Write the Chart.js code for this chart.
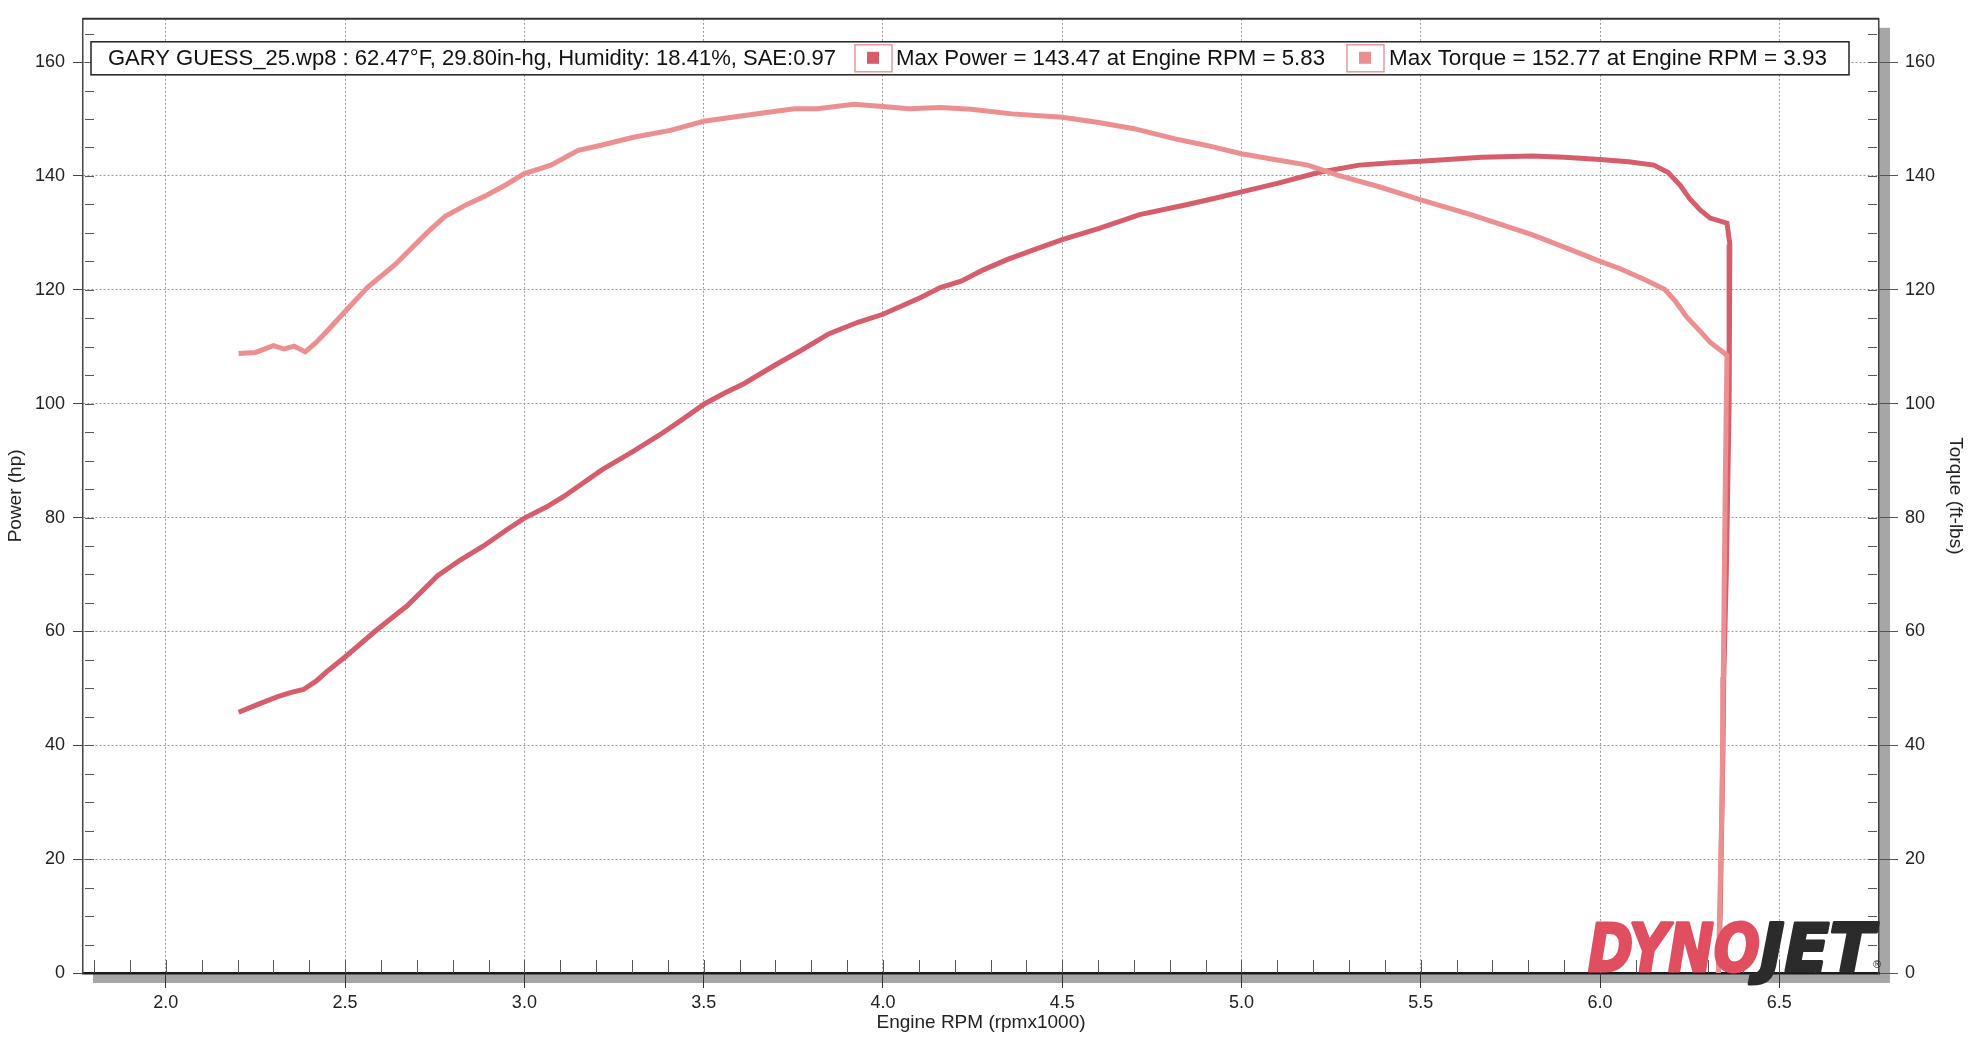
<!DOCTYPE html>
<html>
<head>
<meta charset="utf-8">
<title>Dyno run</title>
<script src="https://cdn.jsdelivr.net/npm/chart.js@4.4.0/dist/chart.umd.min.js"></script>
<style>
  html, body { margin: 0; padding: 0; background: #fff; }
  #wrap { width: 1971px; height: 1038px; position: relative; }
</style>
</head>
<body>
<div id="wrap"><canvas id="dyno"></canvas></div>
<script>
// values (rpm x1000)
const powerRpm = [2.203, 2.25, 2.31, 2.35, 2.384, 2.42, 2.448, 2.50, 2.587, 2.673, 2.758, 2.82, 2.886, 2.95, 3.00,
  3.06, 3.11, 3.217, 3.30, 3.377, 3.44, 3.503, 3.56, 3.612, 3.697, 3.77, 3.85, 3.93, 4.00, 4.104, 4.16, 4.218,
  4.28, 4.346, 4.42, 4.50, 4.603, 4.716, 4.843, 4.92, 5.00, 5.10, 5.214, 5.328, 5.42, 5.50, 5.67, 5.81, 5.90,
  6.00, 6.08, 6.15, 6.19, 6.223, 6.25, 6.28, 6.307, 6.354, 6.362, 6.36, 6.352, 6.345, 6.343, 6.335, 6.33];
const powerHp = [45.8, 47.0, 48.5, 49.3, 49.8, 51.3, 52.9, 55.5, 60.2, 64.5, 69.8, 72.5, 75.0, 77.8, 79.9,
  81.8, 83.7, 88.4, 91.5, 94.5, 97.2, 100.0, 101.9, 103.5, 106.7, 109.3, 112.3, 114.3, 115.7, 118.6, 120.4, 121.5,
  123.5, 125.3, 127.0, 128.8, 130.8, 133.2, 134.9, 136.0, 137.2, 138.7, 140.6, 141.9, 142.3, 142.6, 143.3, 143.5, 143.3,
  142.9, 142.5, 141.9, 140.6, 138.4, 136.0, 134.0, 132.6, 131.7, 128.0, 100.0, 70.0, 52.0, 40.0, 10.0, 0];

const torqueRpm = [2.203, 2.25, 2.30, 2.33, 2.358, 2.389, 2.42, 2.446, 2.50, 2.562, 2.639, 2.728, 2.779, 2.84, 2.895,
  2.95, 3.00, 3.074, 3.15, 3.214, 3.304, 3.407, 3.50, 3.624, 3.753, 3.817, 3.919, 4.00, 4.073, 4.16, 4.246, 4.36,
  4.50, 4.602, 4.70, 4.815, 4.90, 5.00, 5.10, 5.185, 5.27, 5.384, 5.50, 5.64, 5.81, 5.90, 6.00, 6.056, 6.124, 6.18,
  6.21, 6.242, 6.275, 6.307, 6.354, 6.35, 6.345, 6.34, 6.33];
const torqueFtLbs = [108.8, 109.0, 110.2, 109.6, 110.1, 109.1, 110.8, 112.5, 116.2, 120.4, 124.4, 130.0, 132.9, 135.0, 136.6,
  138.5, 140.4, 141.9, 144.5, 145.4, 146.8, 148.0, 149.6, 150.7, 151.8, 151.8, 152.6, 152.2, 151.8, 152.0, 151.7, 150.9,
  150.3, 149.4, 148.3, 146.5, 145.4, 143.9, 142.8, 141.9, 140.1, 138.1, 135.8, 133.2, 129.7, 127.5, 125.0, 123.7, 121.8, 120.1,
  118.0, 115.2, 113.0, 110.8, 108.5, 90.0, 60.0, 30.0, 0];

const rpmTicks = [2.0, 2.5, 3.0, 3.5, 4.0, 4.5, 5.0, 5.5, 6.0, 6.5];
const valueTicks = [0, 20, 40, 60, 80, 100, 120, 140, 160];

const runInfo = 'GARY GUESS_25.wp8 : 62.47°F, 29.80in-hg, Humidity: 18.41%, SAE:0.97';
const powerLabel = 'Max Power = 143.47 at Engine RPM = 5.83';
const torqueLabel = 'Max Torque = 152.77 at Engine RPM = 3.93';

const powerColor = '#d65d6b';
const torqueColor = '#ec8f90';
const font = "'Liberation Sans', Arial, sans-serif";

function pairs(xs, ys) {
  return xs.map((x, i) => ({ x: x, y: ys[i] }));
}

// draw text squeezed/stretched to a given width
function fitText(ctx, text, x, y, width, stroke) {
  const w = ctx.measureText(text).width;
  ctx.save();
  ctx.translate(x, y);
  ctx.scale(width / w, 1);
  ctx.fillText(text, 0, 0);
  if (stroke) {
    ctx.strokeStyle = ctx.fillStyle;
    ctx.lineWidth = stroke;
    ctx.lineJoin = 'round';
    ctx.strokeText(text, 0, 0);
  }
  ctx.restore();
}

// gray drop shadow under the white plot panel, frame, minor ticks, info box, logo
const panelPlugin = {
  id: 'panel',
  beforeDraw(chart) {
    const { ctx, chartArea: a } = chart;
    ctx.save();
    ctx.fillStyle = '#a6a6a6';
    ctx.fillRect(a.left + 10, a.top + 9, a.right - a.left + 1, a.bottom - a.top + 1);
    ctx.fillStyle = '#fff';
    ctx.fillRect(a.left, a.top, a.right - a.left, a.bottom - a.top);
    ctx.restore();
  },
  beforeDatasetsDraw(chart) {
    const { ctx, chartArea: a, scales } = chart;
    ctx.save();
    ctx.strokeStyle = '#333';
    ctx.lineWidth = 2;
    ctx.beginPath();
    ctx.moveTo(a.left, a.top);
    ctx.lineTo(a.right, a.top);
    ctx.stroke();
    ctx.strokeStyle = '#555';
    ctx.lineWidth = 1;
    ctx.beginPath();
    for (let i = 18; i <= 67; i++) {
      const px = Math.round(scales.x.getPixelForValue(i / 10)) + 0.5;
      ctx.moveTo(px, a.bottom);
      ctx.lineTo(px, a.bottom - 13);
    }
    for (let v = 5; v <= 165; v += 5) {
      const py = Math.round(scales.y.getPixelForValue(v)) + 0.5;
      ctx.moveTo(a.left + 2, py);
      ctx.lineTo(a.left + 11, py);
      ctx.moveTo(a.right - 11, py);
      ctx.lineTo(a.right - 2, py);
    }
    ctx.stroke();
    ctx.restore();
  },
  afterDatasetsDraw(chart) {
    const { ctx, chartArea: a } = chart;
    ctx.save();
    const bx = a.left + 8, by = a.top + 23, bw = 1758, bh = 33;
    ctx.fillStyle = '#fff';
    ctx.fillRect(bx, by, bw, bh);
    ctx.strokeStyle = '#222';
    ctx.lineWidth = 1.5;
    ctx.strokeRect(bx, by, bw, bh);
    ctx.font = '22px ' + font;
    ctx.fillStyle = '#111';
    ctx.textBaseline = 'middle';
    const ty = by + bh / 2 + 1;
    fitText(ctx, runInfo, bx + 17, ty, 728);
    const swatch = (sx, color) => {
      ctx.strokeStyle = '#e39a9c';
      ctx.lineWidth = 1.5;
      ctx.strokeRect(sx, by + 3, 37, 27);
      ctx.fillStyle = color;
      ctx.fillRect(sx + 12, by + 10, 12, 12);
      ctx.fillStyle = '#111';
    };
    swatch(bx + 764, powerColor);
    fitText(ctx, powerLabel, bx + 805, ty, 429);
    swatch(bx + 1256, torqueColor);
    fitText(ctx, torqueLabel, bx + 1298, ty, 438);

    ctx.font = 'italic bold 66px "DejaVu Sans", sans-serif';
    ctx.textBaseline = 'alphabetic';
    ctx.fillStyle = '#e04e60';
    const ly = a.bottom - 2;
    fitText(ctx, 'DYNO', a.right - 291, ly, 172, 3);
    ctx.fillStyle = '#2b2b2b';
    fitText(ctx, 'JET', a.right - 119, ly, 114, 3);
    ctx.font = '11px ' + font;
    ctx.fillText('®', a.right - 6, ly - 3);
    ctx.restore();
  }
};

const tickFont = { family: font, size: 18 };
const titleFont = { family: font, size: 19 };

new Chart(document.getElementById('dyno'), {
  type: 'line',
  data: {
    datasets: [
      {
        label: 'Torque',
        data: pairs(torqueRpm, torqueFtLbs),
        yAxisID: 'y2',
        borderColor: torqueColor,
        borderWidth: 5,
        pointRadius: 0,
        tension: 0,
        order: 0
      },
      {
        label: 'Power',
        data: pairs(powerRpm, powerHp),
        yAxisID: 'y',
        borderColor: powerColor,
        borderWidth: 5,
        pointRadius: 0,
        tension: 0,
        order: 1
      }
    ]
  },
  options: {
    responsive: true,
    maintainAspectRatio: false,
    animation: false,
    layout: { padding: { top: 12, left: 0, right: 0, bottom: 0 } },
    plugins: { legend: { display: false }, tooltip: { enabled: false } },
    scales: {
      x: {
        type: 'linear',
        min: 1.769,
        max: 6.778,
        afterBuildTicks: (scale) => { scale.ticks = rpmTicks.map(v => ({ value: v })); },
        afterFit: (scale) => { scale.height = 65; },
        ticks: { color: '#222', font: tickFont, padding: 4, maxRotation: 0, callback: (v) => Number(v).toFixed(1) },
        grid: { color: '#9a9a9a', lineWidth: 1, tickLength: 15, tickColor: '#333', tickWidth: 1 },
        border: { display: true, color: '#1a1a1a', width: 2.5, dash: [2, 2] },
        title: { display: true, text: 'Engine RPM (rpmx1000)', color: '#222', font: titleFont, padding: { top: 0, bottom: 4 } }
      },
      y: {
        position: 'left',
        min: 0,
        max: 167.6,
        afterBuildTicks: (scale) => { scale.ticks = valueTicks.map(v => ({ value: v })); },
        afterFit: (scale) => { scale.width = 83; },
        ticks: { color: '#222', font: tickFont, padding: 8 },
        grid: { color: '#9a9a9a', lineWidth: 1, tickLength: 10, tickColor: '#444', tickWidth: 1 },
        border: { display: true, color: '#444', width: 1.5, dash: [2, 2] },
        title: { display: true, text: 'Power (hp)', color: '#222', font: titleFont, padding: { top: 4, bottom: 0 } }
      },
      y2: {
        position: 'right',
        min: 0,
        max: 167.6,
        afterBuildTicks: (scale) => { scale.ticks = valueTicks.map(v => ({ value: v })); },
        afterFit: (scale) => { scale.width = 92; },
        ticks: { color: '#222', font: tickFont, padding: 7 },
        grid: { drawOnChartArea: false, tickLength: 19, tickColor: '#555', tickWidth: 1 },
        border: { display: true, color: '#444', width: 1.5 },
        title: { display: true, text: 'Torque (ft-lbs)', color: '#222', font: titleFont, padding: { top: 4, bottom: 0 } }
      }
    }
  },
  plugins: [panelPlugin]
});
</script>
</body>
</html>
